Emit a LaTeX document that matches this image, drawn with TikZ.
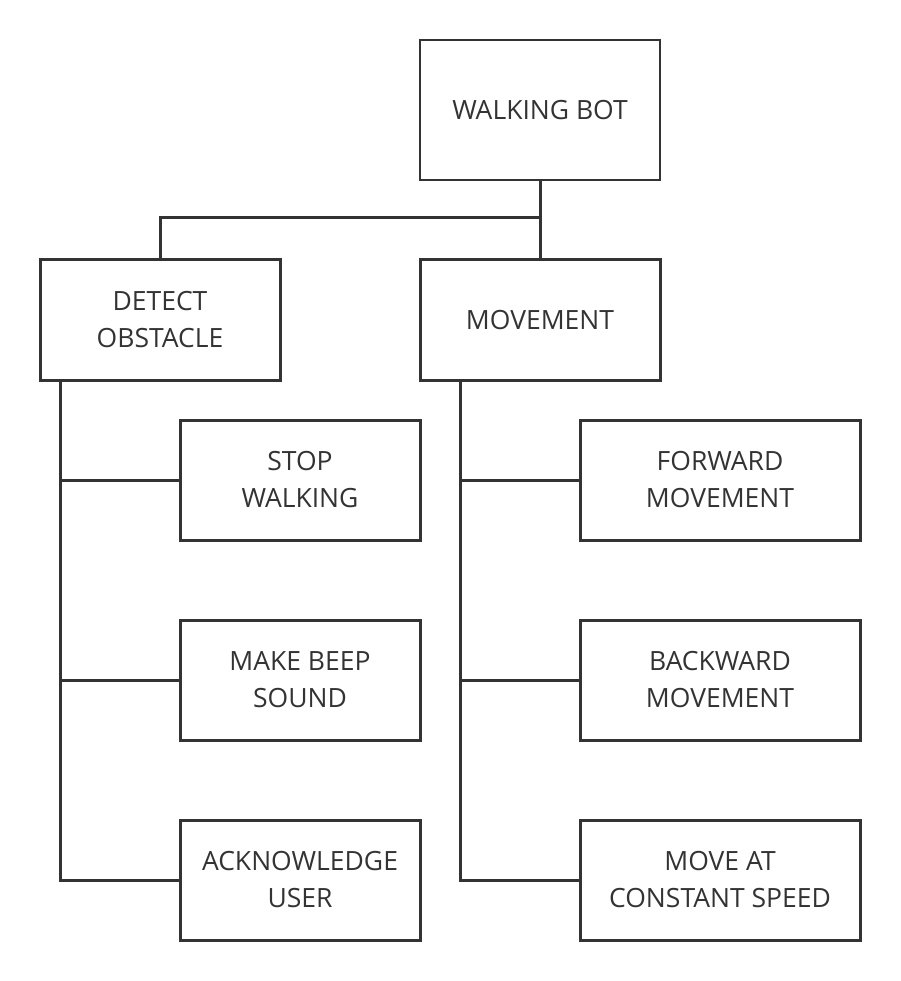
\documentclass[tikz,border=0pt]{standalone}
\usepackage{fontspec}
\setmainfont{Open Sans}
\definecolor{ink}{HTML}{333333}
\begin{document}
\begin{tikzpicture}[x=1pt,y=-1pt,
  box/.style={draw=ink,line width=3pt,rectangle,inner sep=0pt,align=center,text=ink,font=\fontsize{26.5}{37}\selectfont},
  thinbox/.style={box,line width=1.5pt},
  link/.style={draw=ink,line width=3pt}]
\useasboundingbox (0,0) rectangle (900,981);
\node[thinbox,minimum width=240pt,minimum height=140pt] (root) at (540,110) {WALKING BOT};
\node[box,minimum width=240pt,minimum height=120pt] (det) at (160,320) {DETECT\\OBSTACLE};
\node[box,minimum width=240pt,minimum height=120pt] (mov) at (540,320) {MOVEMENT};
\node[box,minimum width=240pt,minimum height=120pt] (stop) at (300,480) {STOP\\WALKING};
\node[box,minimum width=240pt,minimum height=120pt] (beep) at (300,680) {MAKE BEEP\\SOUND};
\node[box,minimum width=240pt,minimum height=120pt] (ack) at (300,880) {ACKNOWLEDGE\\USER};
\node[box,minimum width=280pt,minimum height=120pt] (fwd) at (720,480) {FORWARD\\MOVEMENT};
\node[box,minimum width=280pt,minimum height=120pt] (bwd) at (720,680) {BACKWARD\\MOVEMENT};
\node[box,minimum width=280pt,minimum height=120pt] (cst) at (720,880) {MOVE AT\\CONSTANT SPEED};
\coordinate (j) at (540,218);
\coordinate (lt) at (60,380);
\coordinate (rt) at (460,380);
\draw[link] (root.south) -- (mov.north);
\draw[link] (j) -| (det.north);
\draw[link] (lt) |- (ack.west);
\draw[link] (lt |- stop.west) -- (stop.west);
\draw[link] (lt |- beep.west) -- (beep.west);
\draw[link] (rt) |- (cst.west);
\draw[link] (rt |- fwd.west) -- (fwd.west);
\draw[link] (rt |- bwd.west) -- (bwd.west);
\end{tikzpicture}
\end{document}
